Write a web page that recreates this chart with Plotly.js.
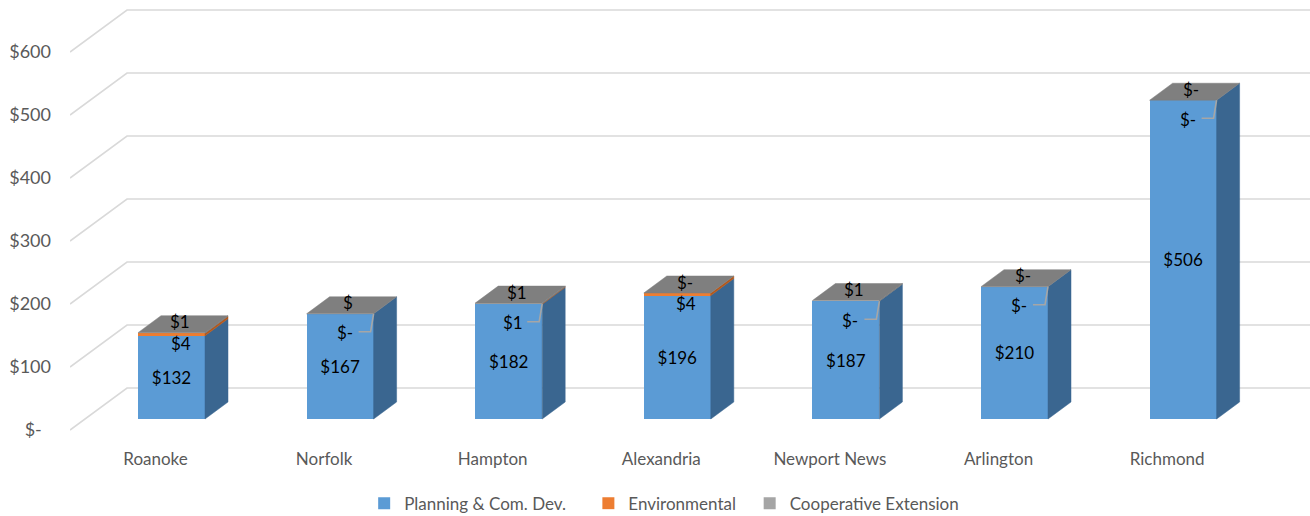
<!DOCTYPE html>
<html>
<head>
<meta charset="utf-8">
<script src="https://cdn.plot.ly/plotly-3.0.1.min.js"></script>
<style>html,body{margin:0;padding:0;background:#fff;}#chart{width:1310px;height:516px;}</style>
</head>
<body>
<div id="chart"></div>
<script>
// ---- data ----
const categories = ['Roanoke', 'Norfolk', 'Hampton', 'Alexandria', 'Newport News', 'Arlington', 'Richmond'];
const planning = [132, 167, 182, 196, 187, 210, 506];
const environmental = [4, 0, 1, 4, 0, 0, 0];
const cooperative = [1, 0, 1, 0, 1, 0, 0];
const envLabels = ['$4', '$-', '$1', '$4', '$-', '$-', '$-'];
const coopLabels = ['$1', '$', '$1', '$-', '$1', '$-', '$-'];
const seriesNames = ['Planning & Com. Dev.', 'Environmental', 'Cooperative Extension'];
const yTickValues = [0, 100, 200, 300, 400, 500, 600];
const yTickLabels = ['$-\u00a0\u00a0', '$100', '$200', '$300', '$400', '$500', '$600'];

// ---- geometry (pixel-to-data helpers for the oblique 3D look) ----
const PX_CAT = 168.6, PX_UNIT = 0.63;
const catPx = px => px / PX_CAT;
const unitPx = px => px / PX_UNIT;
const BAR_W = catPx(67);
const DX = catPx(23), DY = unitPx(17);
const LABEL_DX = catPx(-16), LABEL_DY = unitPx(-11);
const WALL_DX = catPx(57), WALL_DY = unitPx(42);
const X_RANGE = [catPx(70 - 171.5), catPx(1310 - 171.5)];
const Y_RANGE = [unitPx(419 - 445), unitPx(419)];

const FONT = 'Lato, "Open Sans", sans-serif';
const COLORS = ['#5b9bd5', '#ed7d31', '#a5a5a5'];
const SIDE_COLORS = ['#3a6690', '#b3581c', '#7a7a7a'];
const TOP_COLOR = '#7f7f7f';
const PADS = ['\u00a0'.repeat(4), '\u00a0'.repeat(2), ''];

const xs = categories.map((_, i) => i);
const series = [planning, environmental, cooperative];

const traces = [];
series.forEach((vals, s) => {
  const t = {
    type: 'bar', name: seriesNames[s] + PADS[s], x: xs, y: vals, width: BAR_W,
    marker: {color: COLORS[s], line: {width: 0}},
    hoverinfo: 'y'
  };
  if (s === 0) {
    t.texttemplate = '$%{y}';
    t.textposition = 'inside';
    t.insidetextanchor = 'middle';
    t.textangle = 0;
    t.constraintext = 'none';
    t.textfont = {family: FONT, size: 17, color: '#000'};
  } else {
    t.texttemplate = '';
    t.textposition = 'none';
  }
  traces.push(t);
});

// side faces per segment
series.forEach((vals, s) => {
  const px = [], py = [];
  xs.forEach(i => {
    let base = 0;
    for (let k = 0; k < s; k++) base += series[k][i];
    const top = base + vals[i];
    if (vals[i] <= 0) return;
    const xr = i + BAR_W / 2;
    px.push(xr, xr, xr + DX, xr + DX, xr, null);
    py.push(base, top, top + DY, base + DY, base, null);
  });
  traces.push({type: 'scatter', mode: 'lines', x: px, y: py, fill: 'toself',
    fillcolor: SIDE_COLORS[s], line: {color: SIDE_COLORS[s], width: 0.5},
    showlegend: false, hoverinfo: 'skip'});
});

// top faces
(() => {
  const px = [], py = [];
  xs.forEach(i => {
    const T = planning[i] + environmental[i] + cooperative[i];
    const xl = i - BAR_W / 2, xr = i + BAR_W / 2;
    px.push(xl, xr, xr + DX, xl + DX, xl, null);
    py.push(T, T, T + DY, T + DY, T, null);
  });
  traces.push({type: 'scatter', mode: 'lines', x: px, y: py, fill: 'toself',
    fillcolor: TOP_COLOR, line: {color: TOP_COLOR, width: 0.5},
    showlegend: false, hoverinfo: 'skip'});
})();

// gridlines (floor edge + back wall) as shapes below traces
const shapes = yTickValues.map(v => {
  const yf = v + LABEL_DY, yw = yf + WALL_DY;
  const x0 = X_RANGE[0], xw = X_RANGE[0] + WALL_DX, x1 = X_RANGE[1];
  return {type: 'path', xref: 'x', yref: 'y', layer: 'below',
    path: `M ${x0},${yf} L ${xw},${yw} L ${x1},${yw}`,
    line: {color: '#d9d9d9', width: 1.6}};
});

// small-segment labels (+ elbow leader lines for labels moved off their segment)
const annotations = [];
const LBL_FONT = {family: FONT, size: 17, color: '#000'};
xs.forEach(i => {
  const top = planning[i] + environmental[i] + cooperative[i];
  const envTop = planning[i] + environmental[i];
  if (environmental[i] <= 1) {
    const xr = i + BAR_W / 2;
    annotations.push({x: xr, y: envTop, xref: 'x', yref: 'y', text: envLabels[i],
      showarrow: false, xshift: -29, yshift: -19, font: LBL_FONT});
    shapes.push({type: 'path', xref: 'x', yref: 'y', layer: 'above',
      xsizemode: 'pixel', ysizemode: 'pixel', xanchor: xr, yanchor: envTop,
      path: 'M 0,0 L -3,-18 L -15,-18',
      line: {color: '#a6a6a6', width: 1.6}});
  } else {
    annotations.push({x: i, y: envTop, xref: 'x', yref: 'y', text: envLabels[i],
      showarrow: false, xshift: 9, yshift: -10, font: LBL_FONT});
  }
  annotations.push({x: i, y: top, xref: 'x', yref: 'y', text: coopLabels[i],
    showarrow: false, xshift: 8, yshift: 11, font: LBL_FONT});
});

const layout = {
  width: 1310, height: 516,
  margin: {l: 70, r: 0, t: 0, b: 71},
  paper_bgcolor: '#fff', plot_bgcolor: 'rgba(0,0,0,0)',
  barmode: 'stack',
  showlegend: true,
  font: {family: FONT, color: '#595959'},
  xaxis: {range: X_RANGE, showgrid: false, zeroline: false, showline: false,
    tickvals: xs.map(i => i + LABEL_DX), ticktext: categories, ticks: '',
    tickfont: {family: FONT, size: 17, color: '#595959'}, ticklabelstandoff: 2, fixedrange: true},
  yaxis: {range: Y_RANGE, showgrid: false, zeroline: false, showline: false,
    tickvals: yTickValues.map(v => v + LABEL_DY), ticktext: yTickLabels, ticks: '',
    tickfont: {family: FONT, size: 18, color: '#595959'}, ticklabelstandoff: 18, fixedrange: true},
  legend: {orientation: 'h', xref: 'container', yref: 'container', x: 0.507, y: 0.024,
    xanchor: 'center', yanchor: 'middle', traceorder: 'normal',
    font: {family: FONT, size: 17, color: '#595959'}, itemwidth: 30},
  shapes: shapes,
  annotations: annotations
};

Plotly.newPlot('chart', traces, layout, {displayModeBar: false, staticPlot: true});
</script>
</body>
</html>
